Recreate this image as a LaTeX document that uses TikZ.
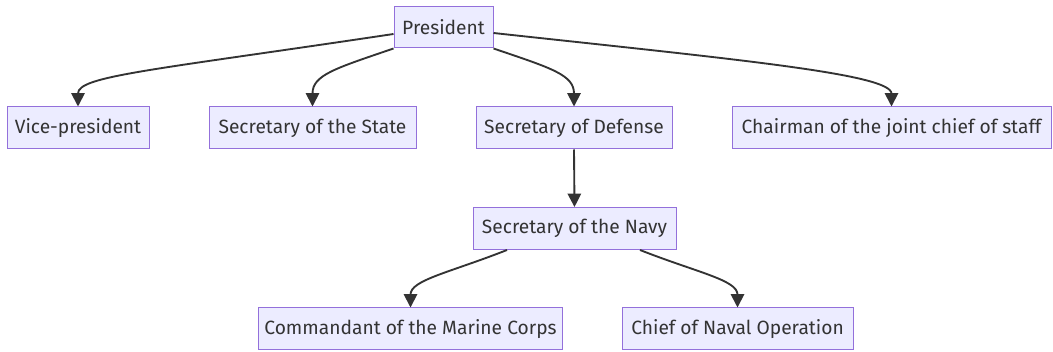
\documentclass[tikz,border=0pt]{standalone}
\usepackage{fontspec}
\setmainfont{Fira Sans}
\usetikzlibrary{arrows.meta}
\definecolor{boxfill}{HTML}{ECECFF}
\definecolor{boxdraw}{HTML}{9370DB}
\definecolor{edgecol}{HTML}{333333}
\definecolor{txtcol}{HTML}{333333}
\tikzset{
  orgbox/.style={draw=boxdraw, fill=boxfill, line width=0.75pt, inner sep=0pt,
    minimum height=31.5pt, text=txtcol, font=\fontsize{14.4pt}{16pt}\selectfont},
  link/.style={draw=edgecol, line width=1.4pt, -{Triangle[length=10pt,width=10pt]}}
}
\begin{document}
\begin{tikzpicture}[x=0.75pt,y=-0.75pt]
\useasboundingbox (0,0) rectangle (1053,352);
\node[orgbox, minimum width=74.25pt, minimum height=30.75pt] (pres) at (443.5,27.5) {President};
\node[orgbox, minimum width=106.5pt] (vice) at (78,128) {Vice-president};
\node[orgbox, minimum width=155.25pt] (state) at (312.5,128) {Secretary of the State};
\node[orgbox, minimum width=147pt] (def) at (574,128) {Secretary of Defense};
\node[orgbox, minimum width=239.25pt] (chair) at (891.5,128) {Chairman of the joint chief of staff};
\node[orgbox, minimum width=152.25pt] (navy) at (574.5,228.5) {Secretary of the Navy};
\node[orgbox, minimum width=228.4pt] (comm) at (410.5,329) {Commandant of the Marine Corps};
\node[orgbox, minimum width=173.25pt] (chief) at (737.5,329) {Chief of Naval Operation};

\draw[link] (pres.west |- 0,34) .. controls (150,70.5) and (78,76) .. (vice.north);
\draw[link] (pres.south west) .. controls (335,68.5) and (312.5,75) .. (state.north);
\draw[link] (pres.south east) .. controls (552.5,68.5) and (574,75) .. (def.north);
\draw[link] (pres.east |- 0,33) .. controls (736,59.4) and (891.5,74) .. (chair.north);
\draw[link] (def.south) -- (navy.north);
\draw[link] (navy.south -| 507,0) .. controls (450,272.5) and (410.5,280) .. (comm.north);
\draw[link] (navy.south -| 640,0) .. controls (697,272.5) and (737.5,280) .. (chief.north);
\end{tikzpicture}
\end{document}
